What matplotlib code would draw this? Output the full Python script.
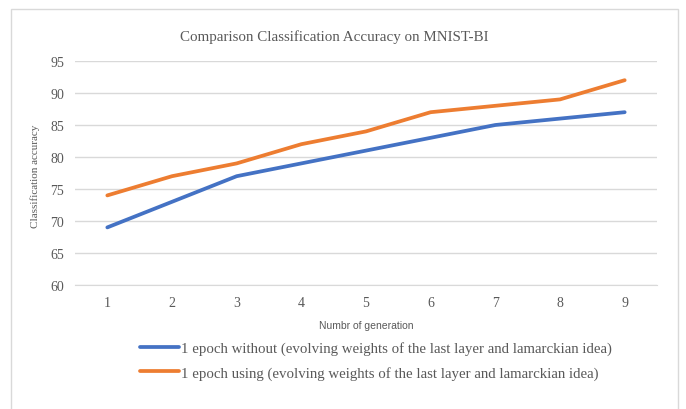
import matplotlib
matplotlib.use("Agg")
import matplotlib.pyplot as plt
from matplotlib.patches import Rectangle

generations = [1, 2, 3, 4, 5, 6, 7, 8, 9]
acc_without = [69, 73, 77, 79, 81, 83, 85, 86, 87]
acc_using = [74, 77, 79, 82, 84, 87, 88, 89, 92]
label_without = "1 epoch without (evolving weights of the last layer and lamarckian idea)"
label_using = "1 epoch using (evolving weights of the last layer and lamarckian idea)"

serif = "Liberation Serif"
grey = "#595959"

fig = plt.figure(figsize=(6.86, 4.10), dpi=100)
W, H = 686, 410

# chart frame like Excel
fig.patches.append(Rectangle((11 / W, -0.01), (678 - 11) / W, 1 - 10 / H + 0.01,
                             transform=fig.transFigure, fill=False,
                             edgecolor="#D9D9D9", linewidth=1))

ax = fig.add_axes([75 / W, 1 - 286 / H, (657 - 75) / W, (286 - 62) / H])
ax.plot(generations, acc_without, color="#4472C4", linewidth=2.7,
        solid_capstyle="round", label=label_without)
ax.plot(generations, acc_using, color="#ED7D31", linewidth=2.7,
        solid_capstyle="round", label=label_using)

ax.set_xlim(0.5, 9.5)
ax.set_ylim(60, 95)
ax.set_yticks(range(60, 96, 5))
ax.set_xticks(generations)
ax.grid(axis="y", color="#D9D9D9", linewidth=1)
ax.set_axisbelow(True)
for s in ["top", "right", "left"]:
    ax.spines[s].set_visible(False)
ax.spines["bottom"].set_color("#D9D9D9")
ax.tick_params(length=0, labelcolor=grey, labelsize=10)
ax.tick_params(axis="y", pad=8)
ax.tick_params(axis="x", pad=8)
for t in ax.get_xticklabels() + ax.get_yticklabels():
    t.set_fontfamily(serif)

fig.text(334 / W, 1 - 37 / H, "Comparison Classification Accuracy on MNIST-BI",
         fontsize=10.8, color=grey, family=serif, ha="center", va="center")
ax.set_xlabel("Numbr of generation", fontsize=7.5, color=grey,
              family="Liberation Sans", labelpad=8)
fig.text(35 / W, 1 - 176 / H, "Classification accuracy", fontsize=8,
         color=grey, family=serif, rotation=90, ha="center", va="center")

leg = fig.legend(loc="upper left", bbox_to_anchor=(127 / W, 1 - 329 / H),
                 frameon=False, prop={"family": serif, "size": 10.7},
                 handlelength=2.6, handletextpad=0.15, labelspacing=0.7)
for t in leg.get_texts():
    t.set_color(grey)

fig.savefig("out.png", dpi=100)
